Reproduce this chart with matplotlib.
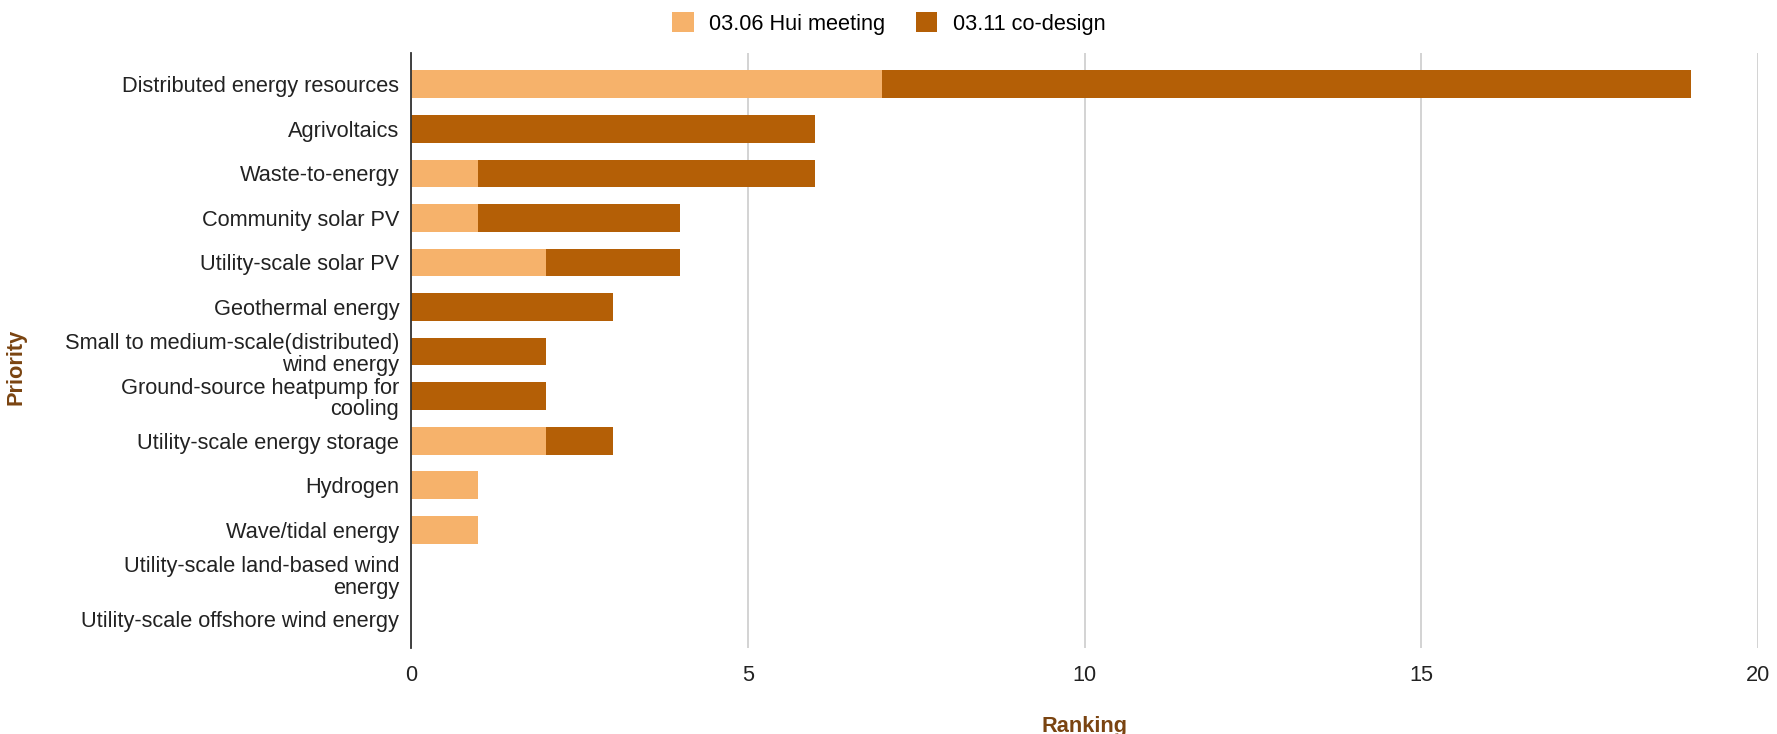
import matplotlib.pyplot as plt
import numpy as np

plt.rcParams['font.family'] = ['Liberation Sans', 'DejaVu Sans']

# priorities (top to bottom)
priorities = [
    "Distributed energy resources",
    "Agrivoltaics",
    "Waste-to-energy",
    "Community solar PV",
    "Utility-scale solar PV",
    "Geothermal energy",
    "Small to medium-scale(distributed)\nwind energy",
    "Ground-source heatpump for\ncooling",
    "Utility-scale energy storage",
    "Hydrogen",
    "Wave/tidal energy",
    "Utility-scale land-based wind\nenergy",
    "Utility-scale offshore wind energy",
]
hui_meeting = [7, 0, 1, 1, 2, 0, 0, 0, 2, 1, 1, 0, 0]
co_design = [12, 6, 5, 3, 2, 3, 2, 2, 1, 0, 0, 0, 0]
xticks = [0, 5, 10, 15, 20]

light = '#F6B26B'
dark = '#B45F06'
brown = '#7A4411'
fs = 15.7

fig = plt.figure(figsize=(17.77, 7.34), dpi=100)
ax = fig.add_axes([0.2313, 0.1172, 0.758, 0.8106])

y = np.arange(len(priorities))
ax.barh(y, hui_meeting, height=0.62, color=light, label='03.06 Hui meeting', zorder=3)
ax.barh(y, co_design, left=hui_meeting, height=0.62, color=dark, label='03.11 co-design', zorder=3)

ax.set_ylim(12.65, -0.7)
ax.set_xlim(0, 20)
ax.set_yticks(y)
ax.set_yticklabels(priorities, fontsize=fs, color='#222222', linespacing=1.05)
ax.set_xticks(xticks)
ax.set_xticklabels([str(t) for t in xticks], fontsize=fs, color='#222222')
ax.tick_params(axis='both', length=0)
ax.tick_params(axis='x', pad=12)
ax.tick_params(axis='y', pad=8.5)

ax.grid(axis='x', color='#cccccc', linewidth=1.2, zorder=0)
for s in ['top', 'right', 'bottom']:
    ax.spines[s].set_visible(False)
ax.spines['left'].set_color('#333333')
ax.spines['left'].set_linewidth(1.3)
ax.spines['left'].set_zorder(4)

ax.set_xlabel('Ranking', fontsize=fs, fontweight='bold', color=brown, labelpad=22)
fig.text(0.009, 0.5, 'Priority', rotation=90, fontsize=fs, fontweight='bold',
         color=brown, ha='center', va='center')

fig.legend(loc='upper center', bbox_to_anchor=(0.5, 1.01), ncol=2, frameon=False,
           fontsize=fs, handlelength=1.0, handleheight=1.0, columnspacing=1.4,
           handletextpad=0.7)

fig.savefig('out.png', dpi=100)
